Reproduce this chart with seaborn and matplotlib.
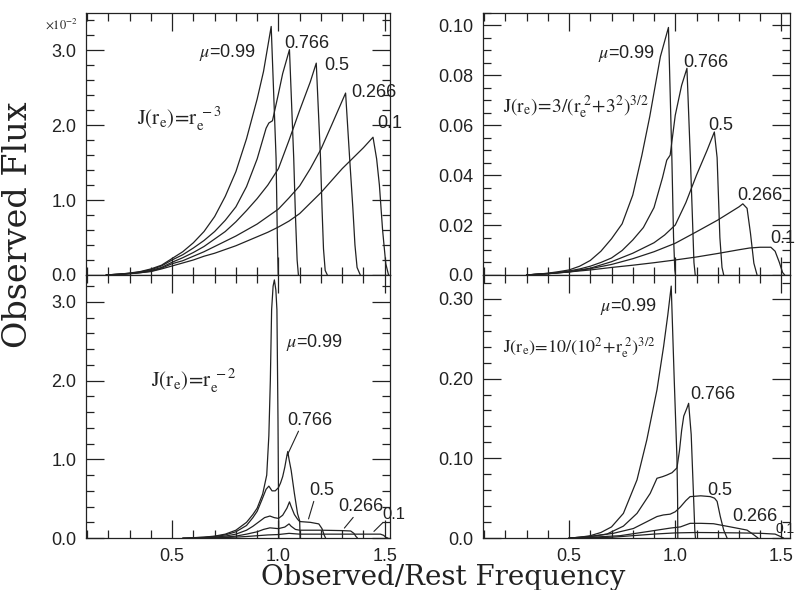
import seaborn as sns
import matplotlib.pyplot as plt
import pandas as pd
from matplotlib.ticker import MultipleLocator, FuncFormatter

# Data - one pair of lists per curve

# Panel A: J(r_e) = r_e^-3, flux in units of 1e-2
a_x_099 = [0.19, 0.25, 0.3, 0.35, 0.4, 0.45, 0.5, 0.55, 0.6, 0.65, 0.7, 0.75, 0.8, 0.85, 0.9, 0.93, 0.966, 0.989, 0.995, 0.999]
a_y_099 = [0.0, 0.01, 0.025, 0.045, 0.08, 0.13, 0.22, 0.31, 0.43, 0.58, 0.78, 1.05, 1.38, 1.82, 2.35, 2.72, 3.32, 1.56, 0.5, 0.0]
a_x_0766 = [0.19, 0.25, 0.3, 0.35, 0.4, 0.45, 0.5, 0.55, 0.6, 0.65, 0.7, 0.75, 0.8, 0.85, 0.9, 0.942, 0.955, 0.972, 1.0, 1.02, 1.052, 1.072, 1.08, 1.088, 1.094]
a_y_0766 = [0.0, 0.01, 0.022, 0.04, 0.07, 0.12, 0.2, 0.27, 0.36, 0.46, 0.58, 0.73, 0.91, 1.18, 1.55, 1.96, 2.03, 2.06, 2.42, 2.69, 3.01, 1.56, 0.8, 0.2, 0.0]
a_x_05 = [0.19, 0.25, 0.3, 0.35, 0.4, 0.45, 0.5, 0.55, 0.6, 0.65, 0.7, 0.75, 0.8, 0.85, 0.9, 0.95, 1.0, 1.05, 1.1, 1.15, 1.178, 1.198, 1.205, 1.212, 1.22, 1.23]
a_y_05 = [0.0, 0.01, 0.02, 0.035, 0.06, 0.1, 0.17, 0.23, 0.3, 0.38, 0.48, 0.58, 0.71, 0.86, 1.02, 1.2, 1.42, 1.8, 2.2, 2.58, 2.83, 1.56, 0.9, 0.35, 0.06, 0.0]
a_x_0266 = [0.19, 0.25, 0.3, 0.35, 0.4, 0.45, 0.5, 0.55, 0.6, 0.65, 0.7, 0.75, 0.8, 0.85, 0.9, 0.95, 1.0, 1.05, 1.1, 1.15, 1.2, 1.25, 1.316, 1.335, 1.35, 1.36, 1.37, 1.385]
a_y_0266 = [0.0, 0.008, 0.018, 0.03, 0.05, 0.09, 0.15, 0.19, 0.25, 0.31, 0.38, 0.45, 0.52, 0.6, 0.68, 0.78, 0.88, 1.03, 1.19, 1.42, 1.68, 2.0, 2.43, 1.56, 0.9, 0.4, 0.1, 0.0]
a_x_01 = [0.19, 0.25, 0.3, 0.35, 0.4, 0.45, 0.5, 0.55, 0.6, 0.65, 0.7, 0.75, 0.8, 0.85, 0.9, 0.95, 1.0, 1.05, 1.1, 1.2, 1.3, 1.4, 1.445, 1.462, 1.475, 1.49, 1.505, 1.518]
a_y_01 = [0.0, 0.005, 0.015, 0.03, 0.045, 0.08, 0.12, 0.16, 0.2, 0.25, 0.29, 0.34, 0.39, 0.45, 0.51, 0.57, 0.64, 0.72, 0.82, 1.1, 1.42, 1.7, 1.84, 1.55, 1.2, 0.6, 0.15, 0.0]

# Panel B: J(r_e) = 3/(r_e^2+3^2)^(3/2)
b_x_099 = [0.3, 0.35, 0.4, 0.45, 0.5, 0.55, 0.6, 0.65, 0.7, 0.75, 0.8, 0.843, 0.88, 0.93, 0.968, 0.984, 0.992, 0.998, 1.001]
b_y_099 = [0.0, 0.0003, 0.0007, 0.0013, 0.002, 0.0035, 0.0058, 0.0095, 0.0145, 0.0205, 0.032, 0.048, 0.0635, 0.0875, 0.0992, 0.047, 0.015, 0.002, 0.0]
b_x_0766 = [0.3, 0.4, 0.45, 0.5, 0.55, 0.6, 0.65, 0.7, 0.75, 0.8, 0.85, 0.9, 0.94, 0.96, 0.976, 1.0, 1.03, 1.055, 1.071, 1.08, 1.088, 1.094]
b_y_0766 = [0.0, 0.0006, 0.001, 0.0016, 0.0024, 0.0035, 0.005, 0.0068, 0.0098, 0.014, 0.019, 0.027, 0.039, 0.046, 0.048, 0.064, 0.076, 0.0828, 0.047, 0.025, 0.005, 0.0]
b_x_05 = [0.3, 0.4, 0.5, 0.6, 0.7, 0.8, 0.9, 0.95, 1.0, 1.05, 1.1, 1.15, 1.184, 1.197, 1.21, 1.22, 1.228]
b_y_05 = [0.0, 0.0005, 0.0013, 0.0027, 0.0053, 0.0087, 0.0129, 0.016, 0.02, 0.029, 0.04, 0.05, 0.0573, 0.047, 0.015, 0.003, 0.0]
b_x_0266 = [0.3, 0.4, 0.5, 0.6, 0.7, 0.8, 0.9, 1.0, 1.1, 1.2, 1.3, 1.318, 1.338, 1.354, 1.37, 1.385]
b_y_0266 = [0.0, 0.0005, 0.0012, 0.0025, 0.0042, 0.0065, 0.0093, 0.0127, 0.0173, 0.022, 0.0273, 0.0285, 0.0267, 0.0167, 0.0047, 0.0]
b_x_01 = [0.3, 0.4, 0.5, 0.6, 0.7, 0.8, 0.9, 1.0, 1.1, 1.2, 1.3, 1.35, 1.4, 1.45, 1.47, 1.49, 1.505, 1.515]
b_y_01 = [0.0, 0.0005, 0.0012, 0.002, 0.003, 0.0039, 0.0049, 0.006, 0.0072, 0.0086, 0.0101, 0.0108, 0.0111, 0.0111, 0.0095, 0.005, 0.001, 0.0]

# Panel C: J(r_e) = r_e^-2
c_x_099 = [0.55, 0.6, 0.65, 0.7, 0.75, 0.8, 0.85, 0.88, 0.9, 0.926, 0.945, 0.955, 0.962, 0.968, 0.975, 0.981, 0.988, 0.993, 0.998, 1.0, 1.002]
c_y_099 = [0.0, 0.005, 0.012, 0.025, 0.05, 0.1, 0.2, 0.3, 0.38, 0.56, 0.8, 1.3, 2.0, 2.9, 3.2, 3.28, 3.15, 2.9, 1.5, 0.7, 0.0]
c_x_0766 = [0.55, 0.6, 0.65, 0.7, 0.75, 0.8, 0.85, 0.88, 0.9, 0.92, 0.942, 0.955, 0.97, 0.985, 1.0, 1.01, 1.02, 1.03, 1.038, 1.044, 1.05, 1.06, 1.075, 1.09, 1.1, 1.102]
c_y_0766 = [0.0, 0.004, 0.01, 0.02, 0.04, 0.08, 0.16, 0.26, 0.34, 0.47, 0.62, 0.66, 0.6, 0.6, 0.64, 0.7, 0.78, 0.9, 1.02, 1.1, 1.0, 0.86, 0.57, 0.31, 0.22, 0.0]
c_x_05 = [0.6, 0.65, 0.7, 0.75, 0.8, 0.85, 0.88, 0.91, 0.935, 0.96, 0.98, 1.0, 1.02, 1.04, 1.052, 1.06, 1.075, 1.09, 1.1, 1.15, 1.19, 1.205, 1.215, 1.222]
c_y_05 = [0.0, 0.005, 0.012, 0.025, 0.05, 0.1, 0.15, 0.21, 0.26, 0.28, 0.26, 0.25, 0.29, 0.38, 0.46, 0.4, 0.3, 0.24, 0.21, 0.2, 0.18, 0.12, 0.04, 0.0]
c_x_0266 = [0.6, 0.7, 0.75, 0.8, 0.85, 0.9, 0.93, 0.96, 1.0, 1.03, 1.05, 1.06, 1.08, 1.1, 1.2, 1.3, 1.34, 1.355, 1.365, 1.372]
c_y_0266 = [0.0, 0.006, 0.012, 0.025, 0.05, 0.08, 0.11, 0.13, 0.12, 0.14, 0.18, 0.15, 0.11, 0.1, 0.1, 0.095, 0.09, 0.06, 0.02, 0.0]
c_x_01 = [0.6, 0.7, 0.8, 0.85, 0.9, 0.95, 1.0, 1.05, 1.1, 1.2, 1.3, 1.4, 1.48, 1.495, 1.505, 1.515]
c_y_01 = [0.0, 0.004, 0.012, 0.02, 0.03, 0.04, 0.045, 0.06, 0.05, 0.05, 0.05, 0.05, 0.05, 0.035, 0.01, 0.0]

# Panel D: J(r_e) = 10/(10^2+r_e^2)^(3/2)
d_x_099 = [0.5, 0.55, 0.6, 0.65, 0.7, 0.756, 0.82, 0.866, 0.914, 0.945, 0.965, 0.981, 0.995, 1.008, 1.011, 1.012]
d_y_099 = [0.0, 0.001, 0.003, 0.007, 0.014, 0.031, 0.073, 0.123, 0.186, 0.24, 0.28, 0.316, 0.2, 0.1, 0.05, 0.0]
d_x_0766 = [0.5, 0.6, 0.678, 0.756, 0.82, 0.882, 0.914, 0.94, 0.96, 0.985, 1.008, 1.02, 1.03, 1.04, 1.055, 1.063, 1.075, 1.085, 1.092, 1.095]
d_y_0766 = [0.0, 0.002, 0.005, 0.015, 0.031, 0.056, 0.075, 0.077, 0.079, 0.082, 0.088, 0.11, 0.135, 0.153, 0.163, 0.169, 0.13, 0.06, 0.01, 0.0]
d_x_05 = [0.5, 0.6, 0.709, 0.803, 0.866, 0.914, 0.944, 0.976, 1.0, 1.024, 1.05, 1.07, 1.12, 1.165, 1.185, 1.197, 1.212, 1.228, 1.244]
d_y_05 = [0.0, 0.002, 0.006, 0.012, 0.0205, 0.027, 0.029, 0.03, 0.033, 0.039, 0.047, 0.052, 0.053, 0.052, 0.05, 0.046, 0.027, 0.01, 0.0]
d_x_0266 = [0.5, 0.6, 0.74, 0.866, 0.976, 1.024, 1.07, 1.12, 1.18, 1.26, 1.338, 1.37, 1.39]
d_y_0266 = [0.0, 0.001, 0.003, 0.008, 0.0125, 0.014, 0.0185, 0.0185, 0.018, 0.014, 0.01, 0.004, 0.0]
d_x_01 = [0.5, 0.6, 0.7, 0.8, 0.9, 1.0, 1.1, 1.2, 1.3, 1.4, 1.47, 1.495, 1.51]
d_y_01 = [0.0, 0.0005, 0.001, 0.003, 0.005, 0.0065, 0.007, 0.0068, 0.0065, 0.006, 0.005, 0.002, 0.0]

mus = ['0.99', '0.766', '0.5', '0.266', '0.1']


def make_frame(xs, ys):
    rows = []
    for mu, x, y in zip(mus, xs, ys):
        rows += [(mu, a, b) for a, b in zip(x, y)]
    return pd.DataFrame(rows, columns=['mu', 'freq', 'flux'])


df_a = make_frame([a_x_099, a_x_0766, a_x_05, a_x_0266, a_x_01], [a_y_099, a_y_0766, a_y_05, a_y_0266, a_y_01])
df_b = make_frame([b_x_099, b_x_0766, b_x_05, b_x_0266, b_x_01], [b_y_099, b_y_0766, b_y_05, b_y_0266, b_y_01])
df_c = make_frame([c_x_099, c_x_0766, c_x_05, c_x_0266, c_x_01], [c_y_099, c_y_0766, c_y_05, c_y_0266, c_y_01])
df_d = make_frame([d_x_099, d_x_0766, d_x_05, d_x_0266, d_x_01], [d_y_099, d_y_0766, d_y_05, d_y_0266, d_y_01])

sns.set_style('ticks')
plt.rcParams['font.family'] = ['Liberation Sans', 'DejaVu Sans']
plt.rcParams['mathtext.fontset'] = 'stix'
ink = '#222222'

fig = plt.figure(figsize=(7.95, 5.9), dpi=100)
ax_a = fig.add_axes([0.1082, 0.534, 0.3824, 0.444])
ax_b = fig.add_axes([0.6075, 0.534, 0.3862, 0.444])
ax_c = fig.add_axes([0.1082, 0.088, 0.3824, 0.446])
ax_d = fig.add_axes([0.6075, 0.088, 0.3862, 0.446])

panels = [
    (ax_a, df_a, (0.095, 1.525), (0, 3.5), 1.0, 0.2, lambda v, p: f'{v:.1f}'),
    (ax_b, df_b, (0.095, 1.54), (0, 0.105), 0.02, 0.005, lambda v, p: '0.0' if abs(v) < 1e-9 else f'{v:.2f}'),
    (ax_c, df_c, (0.095, 1.525), (0, 3.343), 1.0, 0.2, lambda v, p: f'{v:.1f}'),
    (ax_d, df_d, (0.095, 1.54), (0, 0.33), 0.1, 0.02, lambda v, p: '0.0' if abs(v) < 1e-9 else f'{v:.2f}'),
]

for ax, df, xl, yl, ymaj, ymin, fmt in panels:
    sns.lineplot(data=df, x='freq', y='flux', units='mu', estimator=None, sort=False,
                 color=ink, lw=0.9, ax=ax, legend=False)
    ax.set_xlim(*xl)
    ax.set_ylim(*yl)
    ax.xaxis.set_major_locator(MultipleLocator(0.5))
    ax.xaxis.set_minor_locator(MultipleLocator(0.1))
    ax.yaxis.set_major_locator(MultipleLocator(ymaj))
    ax.yaxis.set_minor_locator(MultipleLocator(ymin))
    ax.yaxis.set_major_formatter(FuncFormatter(fmt))
    ax.tick_params(which='both', direction='in', top=True, right=True, color=ink,
                   width=0.9, labelsize=13, labelcolor=ink, pad=7)
    ax.tick_params(which='major', length=13)
    ax.tick_params(which='minor', length=6)
    for s in ax.spines.values():
        s.set_color(ink)
        s.set_linewidth(0.9)
    ax.set_xlabel('')
    ax.set_ylabel('')

for ax in (ax_a, ax_b):
    ax.tick_params(labelbottom=False)
for ax in (ax_c, ax_d):
    ax.set_xticks([0.5, 1.0, 1.5])
    ax.set_xticklabels(['0.5', '1.0', '1.5'])

lab = dict(color=ink, fontsize=13, va='center')

# Panel A labels
ax_a.text(0.627, 2.97, r'$\mu$=0.99', **lab)
ax_a.text(1.028, 3.09, '0.766', **lab)
ax_a.text(1.217, 2.8, '0.5', **lab)
ax_a.text(1.344, 2.44, '0.266', **lab)
ax_a.text(1.467, 2.03, '0.1', **lab)
ax_a.text(0.335, 2.09, r'$\mathrm{J(r_e)\!=\!r_e^{\ -3}}$', color=ink, fontsize=15, va='center')

# Panel B labels
ax_b.text(0.637, 0.0888, r'$\mu$=0.99', **lab)
ax_b.text(1.038, 0.0852, '0.766', **lab)
ax_b.text(1.156, 0.06, '0.5', **lab)
ax_b.text(1.29, 0.032, '0.266', **lab)
ax_b.text(1.448, 0.0148, '0.1', **lab)
ax_b.text(0.189, 0.0672, r'$\mathrm{J(r_e)\!=\!3/(r_e^{\ 2}\!+\!3^2)^{3/2}}$', color=ink, fontsize=14, va='center')

# Panel C labels
ax_c.text(1.038, 2.49, r'$\mu$=0.99', **lab)
ax_c.text(1.042, 1.5, '0.766', **lab)
ax_c.text(1.146, 0.61, '0.5', **lab)
ax_c.text(1.28, 0.4, '0.266', **lab)
ax_c.text(1.49, 0.3, '0.1', color=ink, fontsize=12, va='center')
ax_c.text(0.4, 2.0, r'$\mathrm{J(r_e)\!=\!r_e^{\ -2}}$', color=ink, fontsize=15, va='center')
leader = dict(arrowstyle='-', color=ink, lw=0.8)
ax_c.annotate('', xy=(1.036, 1.02), xytext=(1.1, 1.39), arrowprops=leader)
ax_c.annotate('', xy=(1.138, 0.21), xytext=(1.17, 0.5), arrowprops=leader)
ax_c.annotate('', xy=(1.302, 0.1), xytext=(1.36, 0.29), arrowprops=leader)
ax_c.annotate('', xy=(1.44, 0.06), xytext=(1.5, 0.22), arrowprops=leader)

# Panel D labels
ax_d.text(0.646, 0.291, r'$\mu$=0.99', **lab)
ax_d.text(1.07, 0.18, '0.766', **lab)
ax_d.text(1.15, 0.06, '0.5', **lab)
ax_d.text(1.27, 0.027, '0.266', **lab)
ax_d.text(1.472, 0.0115, '0.1', color=ink, fontsize=10, va='center', clip_on=False)
ax_d.text(0.189, 0.239, r'$\mathrm{J(r_e)\!=\!10/(10^2\!+\!r_e^{\ 2})^{3/2}}$', color=ink, fontsize=13, va='center')

fig.text(0.098, 0.958, r'$\times10^{-2}$', color=ink, fontsize=9, ha='right', va='center')
fig.text(0.023, 0.619, 'Observed Flux', rotation=90, family='DejaVu Serif',
         fontsize=24, color=ink, ha='center', va='center')
fig.text(0.557, 0.022, 'Observed/Rest Frequency', family='DejaVu Serif',
         fontsize=20, color=ink, ha='center', va='center')

fig.savefig('out.png', dpi=100)
